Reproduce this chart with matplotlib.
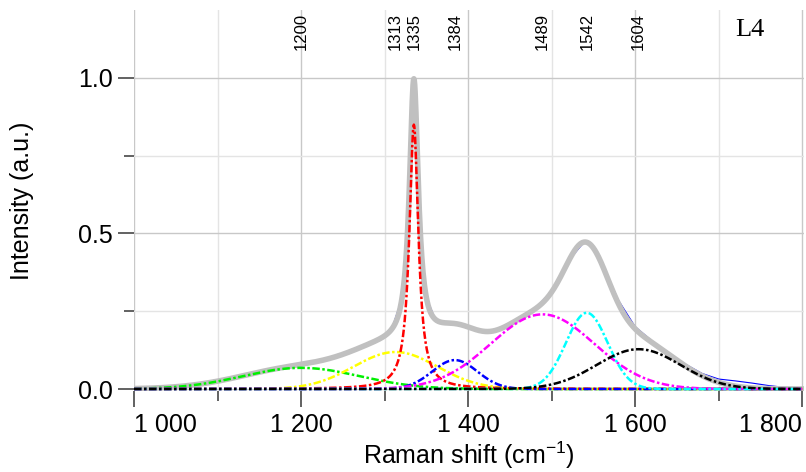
import numpy as np
import matplotlib
matplotlib.use('Agg')
import matplotlib.pyplot as plt
from matplotlib.ticker import FixedLocator, FuncFormatter

plt.rcParams['font.family'] = 'Liberation Sans'
plt.rcParams['mathtext.fontset'] = 'custom'
plt.rcParams['mathtext.rm'] = 'Liberation Sans'
plt.rcParams['mathtext.it'] = 'Liberation Sans:italic'

# fitted bands (position, height, width)
peak_pos = [1200, 1313, 1335, 1384, 1489, 1542, 1604]
peak_height = [0.068, 0.119, 0.85, 0.093, 0.24, 0.245, 0.128]
peak_width = [70, 50, 13, 27, 62, 25, 50]      # gauss: sigma, lorentz: fwhm
peak_shape = ['gauss', 'gauss', 'lorentz', 'gauss', 'gauss', 'gauss', 'gauss']
peak_colors = ['#00f000', '#ffff00', '#ff0000', '#0000ff', '#ff00ff', '#00ffff', '#000000']

raw_x = [1000, 1020, 1040, 1060, 1080, 1100, 1120, 1140, 1160, 1180, 1200, 1220,
         1240, 1260, 1280, 1300, 1310, 1320, 1325, 1330, 1335, 1340, 1345, 1350,
         1360, 1370, 1380, 1390, 1400, 1420, 1440, 1460, 1480, 1500, 1520, 1540,
         1550, 1560, 1580, 1600, 1620, 1640, 1660, 1680, 1700, 1720, 1740, 1760,
         1780, 1800]
raw_y = [0.001, 0.004, 0.008, 0.013, 0.020, 0.030, 0.040, 0.050, 0.062, 0.072,
         0.082, 0.090, 0.104, 0.120, 0.142, 0.172, 0.205, 0.285, 0.400, 0.680,
         1.000, 0.690, 0.410, 0.295, 0.228, 0.215, 0.212, 0.207, 0.200, 0.185,
         0.196, 0.226, 0.258, 0.315, 0.412, 0.476, 0.458, 0.405, 0.285, 0.200,
         0.155, 0.115, 0.080, 0.050, 0.032, 0.026, 0.019, 0.011, 0.005, 0.003]

x = np.linspace(1000, 1800, 1601)
comps = []
for p, h, w, s in zip(peak_pos, peak_height, peak_width, peak_shape):
    if s == 'gauss':
        comps.append(h * np.exp(-(x - p) ** 2 / (2 * w ** 2)))
    else:
        comps.append(h / (1 + (2 * (x - p) / w) ** 2))
fit = np.sum(comps, axis=0)

fig = plt.figure(figsize=(8.06, 4.72), dpi=100)
ax = fig.add_axes([134 / 806, 1 - 391 / 472, 670 / 806, 381 / 472])

ax.plot(raw_x, raw_y, color='#0000ff', lw=0.8, zorder=2)
ax.plot(x, fit, color='#c0c0c0', lw=4.0, zorder=3)
for c, col in zip(comps, peak_colors):
    ax.plot(x, c, color=col, lw=1.8, ls=(0, (3, 1, 1, 1)), zorder=4)

ax.set_xlim(1000, 1802)
ax.set_ylim(-0.0064, 1.2186)

for s in ax.spines.values():
    s.set_visible(False)

ax.xaxis.set_major_locator(FixedLocator([1000, 1200, 1400, 1600, 1800]))
ax.xaxis.set_minor_locator(FixedLocator([1100, 1300, 1500, 1700]))
ax.yaxis.set_major_locator(FixedLocator([0.0, 0.5, 1.0]))
ax.yaxis.set_minor_locator(FixedLocator([0.25, 0.75]))
ax.xaxis.set_major_formatter(FuncFormatter(lambda v, pos: f"{int(v):,}".replace(",", " ")))
ax.yaxis.set_major_formatter(FuncFormatter(lambda v, pos: f"{v:.1f}"))

ax.grid(which='major', color='#c8c8c8', lw=1.0, zorder=0)
ax.grid(which='minor', color='#e4e4e4', lw=1.0, zorder=0)
ax.set_axisbelow(True)

ax.tick_params(axis='both', which='major', direction='out', length=11.5, width=1.3,
               color='#555555', labelsize=18, pad=4)
ax.tick_params(axis='both', which='minor', direction='out', length=7.5, width=1.3,
               color='#555555')

fig.canvas.draw()
xl = ax.get_xticklabels()
xl[0].set_ha('left')
xl[-1].set_ha('right')

ax.set_xlabel('Raman shift (cm$^{-1}$)', fontsize=18, labelpad=2)
ax.set_ylabel('Intensity (a.u.)', fontsize=18)
ax.yaxis.set_label_coords(-0.15, 0.5)

for p in peak_pos:
    ax.annotate(str(p), xy=(p, 1), xycoords=('data', 'axes fraction'),
                xytext=(0, -2), textcoords='offset points', rotation=90,
                ha='center', va='top', fontsize=12)

ax.text(0.919, 0.947, 'L4', transform=ax.transAxes, family='Liberation Serif',
        fontsize=19, ha='center', va='center')

fig.savefig('out.png', dpi=100)
